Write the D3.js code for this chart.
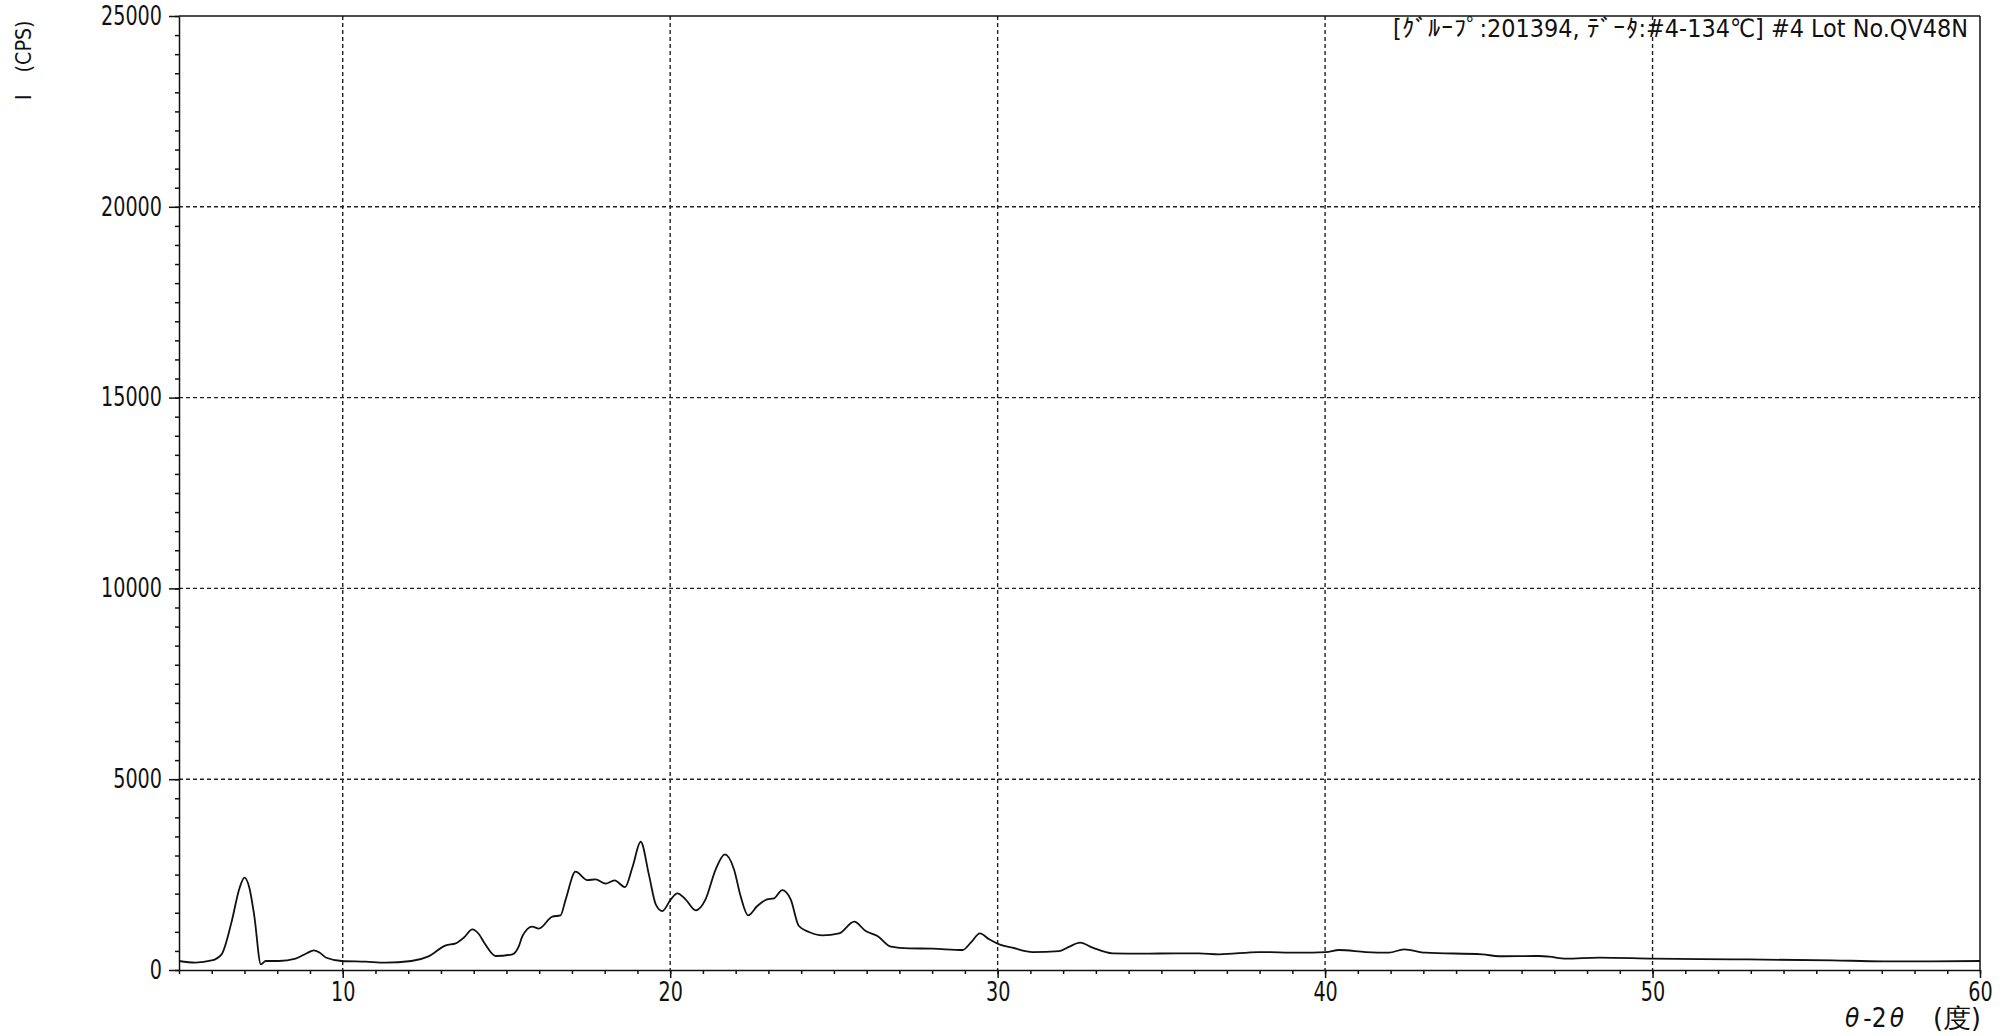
<!DOCTYPE html>
<meta charset="utf-8">
<style>
    body {
        margin: 0;
        background: #fff;
    }
    svg text {
        font-family: "Liberation Sans Narrow", "DejaVu Sans Condensed", "Liberation Sans", sans-serif;
        fill: #111;
    }
    .grid line {
        stroke: #222;
        stroke-width: 1.4px;
        stroke-dasharray: 4,3;
    }
</style>
<body>
<script src="https://cdn.jsdelivr.net/npm/d3@7"></script>
<script>

// 2θ (degrees) and intensity (cps)
var twoTheta = [5.0, 5.5, 6.0, 6.3, 6.6, 6.85, 7.0, 7.15, 7.3, 7.5, 7.65, 8.05, 8.56, 8.9, 9.12, 9.3, 9.5, 9.97,
    10.7, 11.3, 12.1, 12.6, 13.15, 13.45, 13.7, 13.96, 14.15, 14.32, 14.67, 15.18, 15.38, 15.49, 15.79, 15.99,
    16.4, 16.65, 16.81, 17.11, 17.47, 17.72, 18.03, 18.3, 18.62, 18.85, 19.1, 19.35, 19.56, 19.76, 20.02, 20.22,
    20.47, 20.78, 21.08, 21.39, 21.67, 21.95, 22.15, 22.38, 22.66, 22.96, 23.17, 23.42, 23.68, 23.93, 24.24,
    24.65, 25.16, 25.62, 25.97, 26.33, 26.74, 27.3, 28.01, 28.93, 29.18, 29.46, 29.74, 30.05, 30.45, 31.07,
    31.88, 32.19, 32.52, 32.9, 33.51, 34.43, 35.45, 36.15, 36.76, 37.98, 39.2, 40.02, 40.43, 41.24, 41.95,
    42.41, 43.07, 44.8, 45.31, 46.53, 46.84, 47.35, 48.37, 50.02, 52.43, 55.49, 57.02, 58.55, 60.0];

var counts = [236, 195, 250, 411, 1241, 2150, 2420, 2150, 1414, 150, 236, 236, 298, 440, 516, 450, 320, 236,
    218, 193, 236, 351, 647, 699, 850, 1066, 950, 717, 367, 411, 628, 890, 1136, 1084,
    1398, 1432, 1851, 2576, 2356, 2374, 2262, 2348, 2173, 2700, 3361, 2500, 1720, 1545, 1851, 2008,
    1851, 1563, 1851, 2636, 3029, 2636, 1937, 1432, 1676, 1851, 1877, 2094, 1851, 1152, 995,
    908, 960, 1267, 1021, 890, 613, 568, 560, 524, 717, 961, 804, 673, 586, 471,
    497, 613, 717, 586, 437, 428, 437, 437, 411, 471, 454, 471, 524, 471, 454,
    542, 454, 411, 360, 367, 350, 298, 325, 298, 280, 254, 228, 228, 236];

var xTicks = [10, 20, 30, 40, 50, 60];
var yTicks = [0, 5000, 10000, 15000, 20000, 25000];
var caption = "[ｸﾞﾙｰﾌﾟ:201394, ﾃﾞｰﾀ:#4-134℃] #4 Lot No.QV48N";

var data = twoTheta.map(function(t, i) { return {x: t, y: counts[i]}; });

var margin = {top: 16, right: 36, bottom: 66, left: 179},
    width = 2016 - margin.left - margin.right,
    height = 1036 - margin.top - margin.bottom;

var svg = d3.select("body").append("svg")
    .attr("width", 2016)
    .attr("height", 1036);

var g = svg.append("g")
    .attr("transform", "translate(" + margin.left + "," + margin.top + ")");

var x = d3.scaleLinear().domain([5, 60]).range([0, width]);
var y = d3.scaleLinear().domain([0, 25000]).range([height, 0]);

// dashed grid
g.append("g").attr("class", "grid")
  .selectAll("line").data(xTicks.slice(0, -1))
  .enter().append("line")
    .attr("x1", function(d) { return x(d); })
    .attr("x2", function(d) { return x(d); })
    .attr("y1", 0).attr("y2", height);

g.append("g").attr("class", "grid")
  .selectAll("line").data(yTicks.slice(1, -1))
  .enter().append("line")
    .attr("x1", 0).attr("x2", width)
    .attr("y1", function(d) { return y(d); })
    .attr("y2", function(d) { return y(d); });

// minor ticks
g.append("g")
    .attr("transform", "translate(0," + height + ")")
    .call(d3.axisBottom(x).tickValues(d3.range(5, 61, 1)).tickSize(4).tickFormat(""))
    .call(function(s) { s.select(".domain").remove(); });

g.append("g")
    .call(d3.axisLeft(y).tickValues(d3.range(0, 25001, 500)).tickSize(4).tickFormat(""))
    .call(function(s) { s.select(".domain").remove(); });

// major ticks + labels (narrow digits like the plotter font)
function squeeze(sel) {
    sel.selectAll("text")
        .style("font-size", "26px")
        .attr("textLength", function(d) { return String(d).length * 12.2; })
        .attr("lengthAdjust", "spacingAndGlyphs");
}

var xAxis = g.append("g")
    .attr("transform", "translate(0," + height + ")")
    .call(d3.axisBottom(x).tickValues(xTicks).tickFormat(d3.format("d"))
        .tickSize(8).tickPadding(5).tickSizeOuter(0));
squeeze(xAxis);
xAxis.selectAll("text").attr("dy", "0.71em");

var yAxis = g.append("g")
    .call(d3.axisLeft(y).tickValues(yTicks).tickFormat(d3.format("d"))
        .tickSize(10).tickPadding(7).tickSizeOuter(0));
squeeze(yAxis);

g.selectAll(".tick line, .domain").attr("stroke", "#111").attr("stroke-width", 1.5);

// frame top + right
g.append("line").attr("x1", 0).attr("x2", width).attr("y1", 0).attr("y2", 0)
    .attr("stroke", "#111").attr("stroke-width", 1.5);
g.append("line").attr("x1", width).attr("x2", width).attr("y1", 0).attr("y2", height)
    .attr("stroke", "#111").attr("stroke-width", 1.5);

// the scan
var line = d3.line()
    .x(function(d) { return x(d.x); })
    .y(function(d) { return y(d.y); })
    .curve(d3.curveMonotoneX);

g.append("path")
    .datum(data)
    .attr("fill", "none")
    .attr("stroke", "#111")
    .attr("stroke-width", 1.8)
    .attr("d", line);

// texts
var yt = svg.append("text")
    .attr("transform", "translate(31,100) rotate(-90)")
    .style("font-size", "21px");
yt.append("tspan").text("I");
yt.append("tspan").attr("dx", 22).attr("textLength", 52)
    .attr("lengthAdjust", "spacingAndGlyphs").text("(CPS)");

svg.append("text")
    .attr("x", 1393).attr("y", 37)
    .attr("textLength", 575)
    .attr("lengthAdjust", "spacingAndGlyphs")
    .style("font-size", "25px")
    .text(caption);

var xt = svg.append("text")
    .attr("x", 1845).attr("y", 1027)
    .style("font-size", "26px");
xt.append("tspan").style("font-style", "italic").text("θ");
xt.append("tspan").attr("dx", 4).text("-2");
xt.append("tspan").attr("dx", 3).style("font-style", "italic").text("θ");
xt.append("tspan").attr("x", 1933).attr("textLength", 48)
    .attr("lengthAdjust", "spacingAndGlyphs").text("(度)");

</script>
</body>
